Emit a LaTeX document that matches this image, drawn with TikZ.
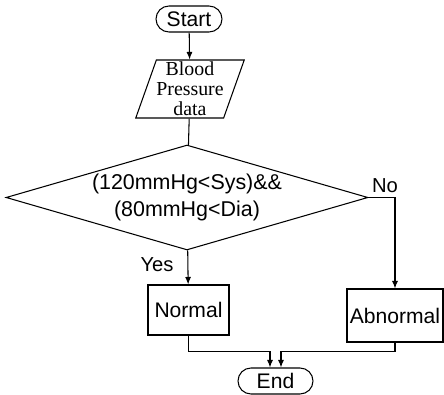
\documentclass[tikz,border=0pt]{standalone}
\usepackage{fontspec}
\setmainfont{Liberation Sans}
\newfontfamily\timesfont{Liberation Serif}
\usetikzlibrary{shapes.geometric,shapes.misc,arrows.meta}
\tikzset{
  terminal/.style={rounded rectangle, draw, line width=0.6pt, inner sep=0pt, minimum height=0.52cm},
  inout/.style={trapezium, trapezium left angle=69, trapezium right angle=111,
    trapezium stretches body, draw, line width=0.6pt, inner sep=0pt, align=center,
    font=\timesfont\fontsize{11.3}{11.3}\selectfont},
  decision/.style={diamond, draw, line width=0.6pt, inner sep=0pt, aspect=3.45, align=center,
    font=\fontsize{12.2}{15.3}\selectfont},
  process/.style={rectangle, draw, line width=0.6pt, inner sep=0pt},
  answer/.style={font=\fontsize{11.5}{13}\selectfont, inner sep=0pt}
}
\begin{document}
\begin{tikzpicture}[x=0.02cm, y=-0.02cm, line width=0.6pt,
    font=\fontsize{12}{14}\selectfont, >={Latex[length=1.5mm,width=1.2mm]}]
  \useasboundingbox (0,0) rectangle (444,395);
  % shapes
  \node[terminal, minimum width=1.32cm] (start) at (189,19) {Start};
  \node[inout, minimum width=2.12cm, minimum height=1.16cm] (data) at (190,89) {Blood\\Pressure\\data};
  \node[decision, minimum width=7.24cm, minimum height=2.1cm] (test) at (187,197.5)
    {(120mmHg<Sys)\&\&\\(80mmHg<Dia)};
  \node[process, minimum width=1.62cm, minimum height=1.0cm] (normal) at (188.5,310) {Normal};
  \node[process, minimum width=1.92cm, minimum height=1.06cm] (abnormal) at (395,315.5) {Abnormal};
  \node[terminal, minimum width=1.5cm] (end) at (275.5,381) {End};
  \node[answer] (yes) at (157,265) {Yes};
  \node[answer] (no) at (385,186) {No};
  % connectors
  \draw [->] (start) -- (data);
  \draw (data) -- (test);
  \draw [->] (test) -- (normal);
  \draw [->] (test.east) -| (abnormal.north);
  \draw [->] (normal.south) |- ([xshift=-0.11cm,yshift=0.32cm]end.north) -- ([xshift=-0.11cm]end.north);
  \draw [->] (abnormal.south) |- ([xshift=0.11cm,yshift=0.32cm]end.north) -- ([xshift=0.11cm]end.north);
\end{tikzpicture}
\end{document}
